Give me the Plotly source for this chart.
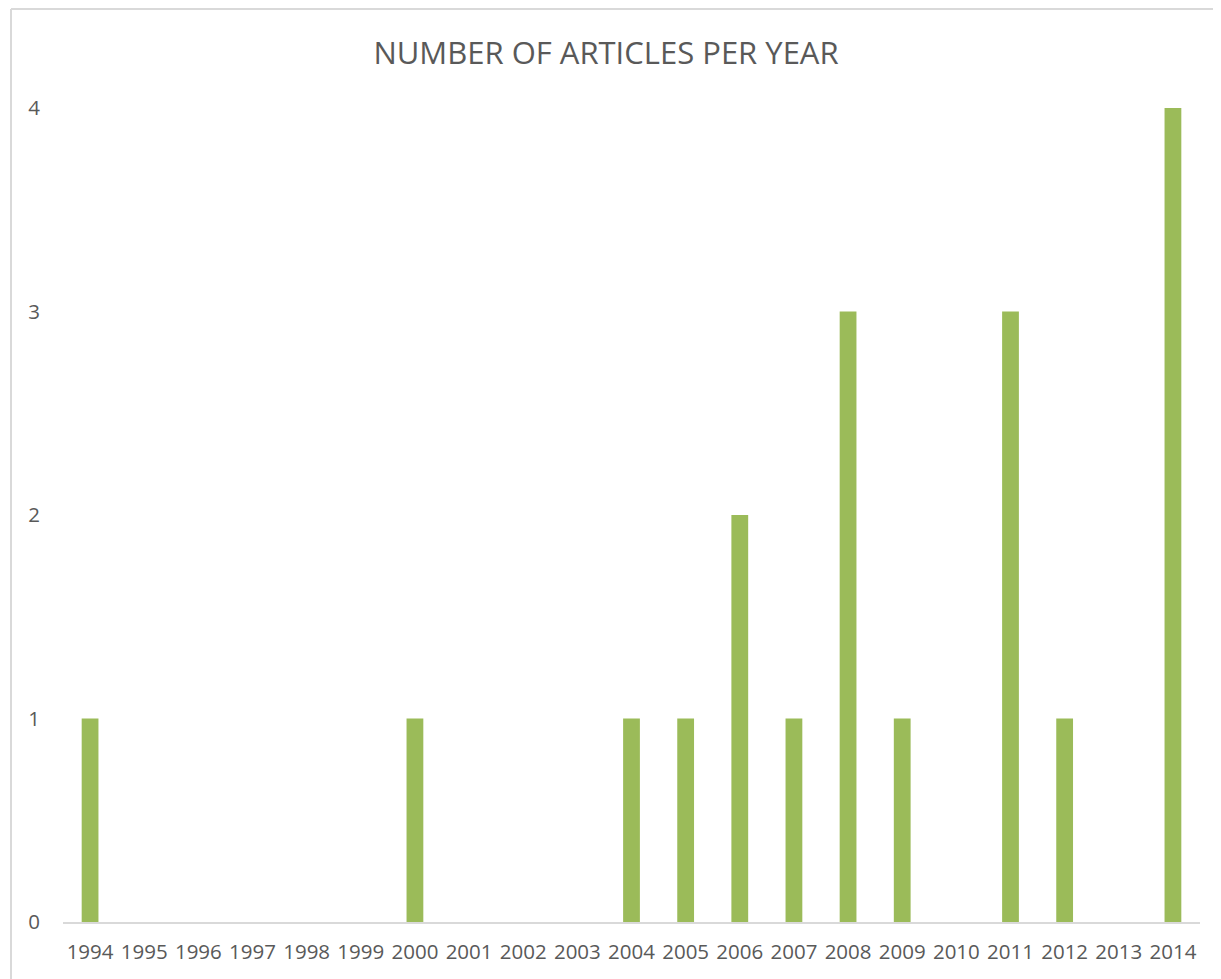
import plotly.graph_objects as go

years = [str(y) for y in range(1994, 2015)]
articles = [1, 0, 0, 0, 0, 0, 1, 0, 0, 0, 1, 1, 2, 1, 3, 1, 0, 3, 1, 0, 4]
y_ticks = [0, 1, 2, 3, 4]

OFF = 8  # page body margin
W, H = 1221 - OFF, 979 - OFF
ML, MR, MT, MB = 63 - OFF, 21, 108 - OFF, 57
PW, PH = W - ML - MR, H - MT - MB

def px_x(px):
    return (px - OFF - ML) / PW

def px_y(py):
    return (H - MB - (py - OFF)) / PH

fig = go.Figure(go.Bar(
    x=years, y=articles,
    marker=dict(color="#9BBB59", line=dict(width=0)),
    hoverinfo="x+y",
))

fig.update_layout(
    width=W, height=H,
    margin=dict(l=ML, r=MR, t=MT, b=MB),
    paper_bgcolor="white", plot_bgcolor="white",
    bargap=0.69,
    showlegend=False,
    title=dict(text="NUMBER OF ARTICLES PER YEAR", x=(606 - OFF) / W, xanchor="center",
               y=1 - (53 - OFF) / H, yanchor="middle",
               font=dict(family="Open Sans", size=31, color="#595959")),
    font=dict(family="Open Sans", color="#595959"),
    xaxis=dict(type="category", showgrid=False, showline=True, linecolor="#D9D9D9",
               linewidth=2, ticks="", tickfont=dict(size=20.5, color="#595959"),
               tickangle=0, ticklabelstandoff=10, fixedrange=True),
    yaxis=dict(range=[0, 4], tickvals=y_ticks, showgrid=False, zeroline=False,
               showline=False, ticks="", tickfont=dict(size=20.5, color="#595959"),
               ticklabelstandoff=22, fixedrange=True),
    shapes=[
        dict(type="line", xref="paper", yref="paper", x0=px_x(11), x1=px_x(1250),
             y0=px_y(9), y1=px_y(9), line=dict(color="#D9D9D9", width=2)),
        dict(type="line", xref="paper", yref="paper", x0=px_x(11), x1=px_x(11),
             y0=px_y(9), y1=px_y(1000), line=dict(color="#D9D9D9", width=2)),
    ],
)

fig.write_html("out.html")
